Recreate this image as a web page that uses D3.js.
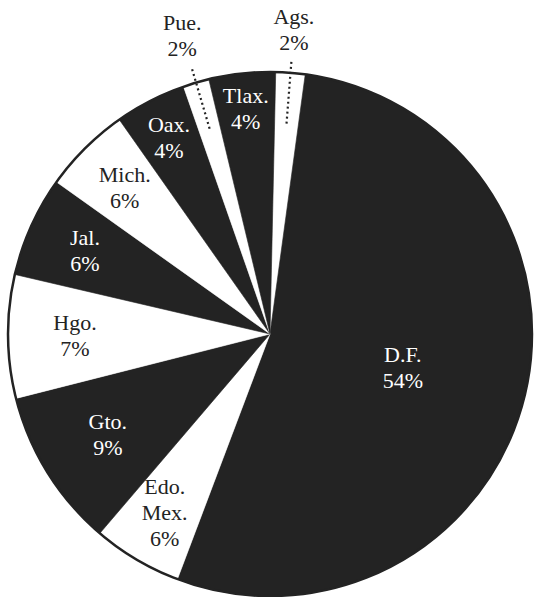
<!DOCTYPE html>
<html>
<head>
<meta charset="utf-8">
<script src="https://cdn.jsdelivr.net/npm/d3@7"></script>
<style>
  html, body { margin: 0; padding: 0; background: #fff; }
  svg { display: block; }
</style>
</head>
<body>
<svg id="chart" width="534" height="597"></svg>
<script>
// ---- data (clockwise from 12 o'clock) ----
const categories = ["Ags.", "D.F.", "Edo. Mex.", "Gto.", "Hgo.", "Jal.", "Mich.", "Oax.", "Pue.", "Tlax."];
const shares     = [1.8, 53.6, 5.5, 9.8, 7.6, 6.2, 5.4, 4.4, 1.6, 4.1];
const percentLabels = ["2%", "54%", "6%", "9%", "7%", "6%", "6%", "4%", "2%", "4%"];

// ---- layout / style ----
const cx = 270, cy = 334, R = 262;
const startOffset = 1.25 * Math.PI / 180;
const darkFill = "#232323";
const fills = ["#fff", darkFill, "#fff", darkFill, "#fff", darkFill, "#fff", darkFill, "#fff", darkFill];
const labelRadius = [305, 137, 207, 191, 195, 203, 206, 221, 311, 227];
const leaders = { 0: [211, 275], 8: [214, 279] };
const fontFamily = "'Liberation Serif', 'Times New Roman', serif";
const fontSize = 22, lineH = 26;

const svg = d3.select("#chart");
const g = svg.append("g").attr("transform", `translate(${cx},${cy})`);

const pie = d3.pie().sort(null).value(d => d.v)
  .startAngle(startOffset).endAngle(startOffset + 2 * Math.PI);
const data = categories.map((c, i) => ({ name: c, v: shares[i], pct: percentLabels[i], i }));
const arcs = pie(data);
const arc = d3.arc().innerRadius(0).outerRadius(R);

g.selectAll("path.slice").data(arcs).enter().append("path")
  .attr("class", "slice")
  .attr("d", arc)
  .attr("fill", d => fills[d.data.i])
  .attr("stroke", d => fills[d.data.i])
  .attr("stroke-width", 0.6);

// outer rim
g.append("circle").attr("r", R).attr("fill", "none")
  .attr("stroke", darkFill).attr("stroke-width", 2.5);

function polar(a, r) { return [Math.sin(a) * r, -Math.cos(a) * r]; }

// dotted leader lines
arcs.forEach(d => {
  const L = leaders[d.data.i];
  if (!L) return;
  const mid = (d.startAngle + d.endAngle) / 2;
  const p0 = polar(mid, L[0]), p1 = polar(mid, L[1]);
  g.append("line")
    .attr("x1", p0[0]).attr("y1", p0[1]).attr("x2", p1[0]).attr("y2", p1[1])
    .attr("stroke", darkFill).attr("stroke-width", 2.2)
    .attr("stroke-dasharray", "2 3");
});

// labels
arcs.forEach(d => {
  const i = d.data.i;
  const mid = (d.startAngle + d.endAngle) / 2;
  const p = polar(mid, labelRadius[i]);
  const lines = d.data.name.split(" ").concat([d.data.pct]);
  const inside = labelRadius[i] < R;
  const color = inside && fills[i] === darkFill ? "#fff" : darkFill;
  const t = g.append("text")
    .attr("text-anchor", "middle")
    .attr("font-family", fontFamily)
    .attr("font-size", fontSize)
    .attr("fill", color);
  const y0 = p[1] - (lines.length - 1) * lineH / 2 + 7.5;
  lines.forEach((s, k) => {
    t.append("tspan").attr("x", p[0]).attr("y", y0 + k * lineH).text(s);
  });
});
</script>
</body>
</html>
